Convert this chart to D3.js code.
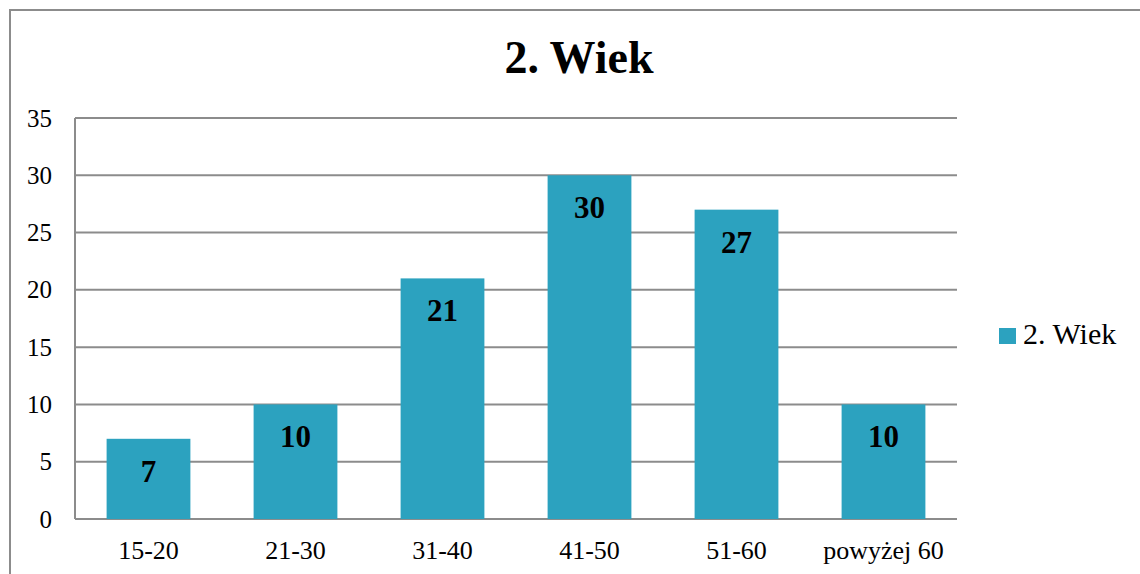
<!DOCTYPE html>
<html>
<head>
<meta charset="utf-8">
<script src="https://cdn.jsdelivr.net/npm/d3@7"></script>
<style>
  body { margin: 0; background: #fff; }
  svg { display: block; }
</style>
</head>
<body>
<div id="chart"></div>
<script>
'use strict';
// dane
const categories = ['15-20', '21-30', '31-40', '41-50', '51-60', 'powyżej 60'];
const values = [7, 10, 21, 30, 27, 10];
const yTicks = [0, 5, 10, 15, 20, 25, 30, 35];
const seriesName = '2. Wiek';
const title = '2. Wiek';

const W = 1140, H = 574;
const FONT = '"Liberation Serif", "Times New Roman", serif';
const margin = {top: 118, right: 183, bottom: 55, left: 75};
const width = W - margin.left - margin.right,
      height = 519 - margin.top;
const barColor = '#2ca2bf';
const gridColor = '#8c8c8c';

const svg = d3.select('#chart').append('svg')
    .attr('width', W)
    .attr('height', H);

// ramka wykresu
svg.append('rect')
    .attr('x', 10).attr('y', 10)
    .attr('width', W + 20).attr('height', H + 20)
    .attr('fill', 'none')
    .attr('stroke', gridColor)
    .attr('stroke-width', 2);

svg.append('text')
    .attr('x', 579).attr('y', 73)
    .attr('text-anchor', 'middle')
    .attr('font-size', 46)
    .attr('font-weight', 'bold')
    .style('font-family', FONT)
    .text(title);

const g = svg.append('g')
    .attr('transform', 'translate(' + margin.left + ',' + margin.top + ')');

const x = d3.scaleBand()
    .domain(categories)
    .range([0, width])
    .paddingInner(0.43)
    .paddingOuter(0.215);

const y = d3.scaleLinear()
    .domain([0, 35])
    .range([height, 0]);

// siatka
g.selectAll('.grid')
    .data(yTicks)
  .enter().append('line')
    .attr('x1', 0).attr('x2', width)
    .attr('y1', d => y(d)).attr('y2', d => y(d))
    .attr('stroke', gridColor)
    .attr('stroke-width', 2);

g.append('line')
    .attr('x1', 0).attr('x2', 0)
    .attr('y1', 0).attr('y2', height)
    .attr('stroke', gridColor)
    .attr('stroke-width', 2);

const yAxis = g.append('g')
    .call(d3.axisLeft(y).tickValues(yTicks).tickSize(0).tickPadding(23));
yAxis.select('.domain').remove();
yAxis.selectAll('text')
    .attr('font-size', 25)
    .style('font-family', FONT)
    .attr('fill', '#000');

const xAxis = g.append('g')
    .attr('transform', 'translate(0,' + height + ')')
    .call(d3.axisBottom(x).tickSize(0).tickPadding(22));
xAxis.select('.domain').remove();
xAxis.selectAll('text')
    .attr('font-size', 26)
    .style('font-family', FONT)
    .attr('fill', '#000');

g.selectAll('.bar')
    .data(values)
  .enter().append('rect')
    .attr('class', 'bar')
    .attr('x', (d, i) => x(categories[i]))
    .attr('width', x.bandwidth())
    .attr('y', d => y(d))
    .attr('height', d => height - y(d))
    .attr('fill', barColor);

g.selectAll('.lbl')
    .data(values)
  .enter().append('text')
    .attr('x', (d, i) => x(categories[i]) + x.bandwidth() / 2)
    .attr('y', d => y(d) + 43)
    .attr('text-anchor', 'middle')
    .attr('font-size', 31)
    .attr('font-weight', 'bold')
    .style('font-family', FONT)
    .text(d => d);

// legenda
const legend = svg.append('g').attr('transform', 'translate(999,328)');
legend.append('rect')
    .attr('width', 17).attr('height', 16)
    .attr('fill', barColor);
legend.append('text')
    .attr('x', 24).attr('y', 16)
    .attr('font-size', 30)
    .style('font-family', FONT)
    .text(seriesName);
</script>
</body>
</html>
